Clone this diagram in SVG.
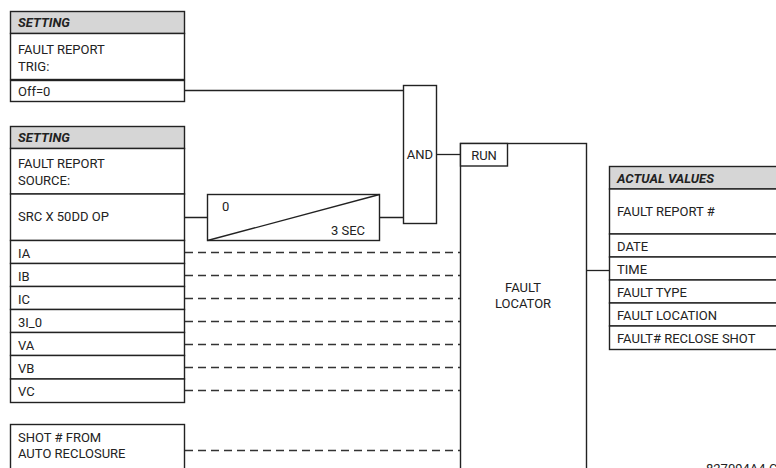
<svg xmlns="http://www.w3.org/2000/svg" width="776" height="468" viewBox="0 0 776 468">
<style>
  text { font-family: Roboto, "Liberation Sans", sans-serif; font-size: 13px; fill: #222; }
  .hdr { font-weight: bold; font-style: italic; }
  .box { fill: #fff; stroke: #222; stroke-width: 1.4; }
  .head { fill: #d6d6d6; stroke: #222; stroke-width: 1.4; }
  .ln { fill: none; stroke: #222; stroke-width: 1.3; }
  .dash { fill: none; stroke: #333; stroke-width: 1.3; stroke-dasharray: 8 5; }
  .mid { text-anchor: middle; }
</style>
<rect width="776" height="468" fill="#fff"/>

<g id="connectors">
  <path class="ln" d="M185 90.5 H403"/>
  <path class="ln" d="M185 217.5 H207 M380 217.5 H403"/>
  <path class="ln" d="M437 154.5 H460"/>
  <path class="ln" d="M587 270.5 H609"/>
  <path class="dash" d="M185 252.5 H460 M185 275.5 H460 M185 298.5 H460 M185 321.5 H460 M185 344.5 H460 M185 367.5 H460 M185 390.5 H460 M185 450.5 H460"/>
</g>

<g id="setting-trig">
  <rect class="head" x="10.5" y="11.5" width="174" height="22"/>
  <text class="hdr" x="18" y="27">SETTING</text>
  <rect class="box" x="10.5" y="33.5" width="174" height="46"/>
  <text x="18" y="54">FAULT REPORT</text>
  <text x="18" y="71">TRIG:</text>
  <rect class="box" x="10.5" y="80.5" width="174" height="21"/>
  <text x="18" y="96">Off=0</text>
</g>

<g id="setting-source">
  <rect class="head" x="10.5" y="126.5" width="174" height="22"/>
  <text class="hdr" x="18" y="142">SETTING</text>
  <rect class="box" x="10.5" y="148.5" width="174" height="45.5"/>
  <text x="18" y="168">FAULT REPORT</text>
  <text x="18" y="185">SOURCE:</text>
  <rect class="box" x="10.5" y="194" width="174" height="46.5"/>
  <text x="18" y="221">SRC X 50DD OP</text>
</g>

<g id="signals">
  <rect class="box" x="10.5" y="240.5" width="174" height="23"/>
  <text x="18" y="257.5">IA</text>
  <rect class="box" x="10.5" y="263.5" width="174" height="23"/>
  <text x="18" y="280.5">IB</text>
  <rect class="box" x="10.5" y="286.5" width="174" height="23"/>
  <text x="18" y="303.5">IC</text>
  <rect class="box" x="10.5" y="309.5" width="174" height="23"/>
  <text x="18" y="326.5">3I_0</text>
  <rect class="box" x="10.5" y="332.5" width="174" height="23"/>
  <text x="18" y="349.5">VA</text>
  <rect class="box" x="10.5" y="355.5" width="174" height="23.5"/>
  <text x="18" y="372.5">VB</text>
  <rect class="box" x="10.5" y="379" width="174" height="23.5"/>
  <text x="18" y="396">VC</text>
</g>

<g id="shot">
  <rect class="box" x="10.5" y="424.5" width="174" height="60"/>
  <text x="18" y="442">SHOT # FROM</text>
  <text x="18" y="458">AUTO RECLOSURE</text>
</g>

<g id="timer">
  <rect class="box" x="207.5" y="194.5" width="172" height="46"/>
  <path class="ln" d="M207.5 240.5 L379.5 194.5"/>
  <text x="222" y="211">0</text>
  <text x="365" y="235" text-anchor="end">3 SEC</text>
</g>

<g id="and">
  <rect class="box" x="403.5" y="85.5" width="33" height="138"/>
  <text class="mid" x="420" y="159">AND</text>
</g>

<g id="fault-locator">
  <rect class="box" x="460.5" y="143.5" width="126" height="340"/>
  <rect class="box" x="460.5" y="143.5" width="47" height="22.5"/>
  <text class="mid" x="484" y="159.5">RUN</text>
  <text class="mid" x="523" y="292">FAULT</text>
  <text class="mid" x="523" y="308">LOCATOR</text>
</g>

<g id="actual-values">
  <rect class="head" x="609.5" y="166.5" width="180" height="22.5"/>
  <text class="hdr" x="617" y="182.5">ACTUAL VALUES</text>
  <rect class="box" x="609.5" y="189" width="180" height="45"/>
  <text x="617" y="216">FAULT REPORT #</text>
  <rect class="box" x="609.5" y="234" width="180" height="23"/>
  <text x="617" y="250.5">DATE</text>
  <rect class="box" x="609.5" y="257" width="180" height="23"/>
  <text x="617" y="273.5">TIME</text>
  <rect class="box" x="609.5" y="280" width="180" height="23"/>
  <text x="617" y="296.5">FAULT TYPE</text>
  <rect class="box" x="609.5" y="303" width="180" height="23"/>
  <text x="617" y="319.5">FAULT LOCATION</text>
  <rect class="box" x="609.5" y="326" width="180" height="23.5"/>
  <text x="617" y="342.5">FAULT# RECLOSE SHOT</text>
</g>

<text x="706" y="472.5">827094A4.CDR</text>
</svg>
